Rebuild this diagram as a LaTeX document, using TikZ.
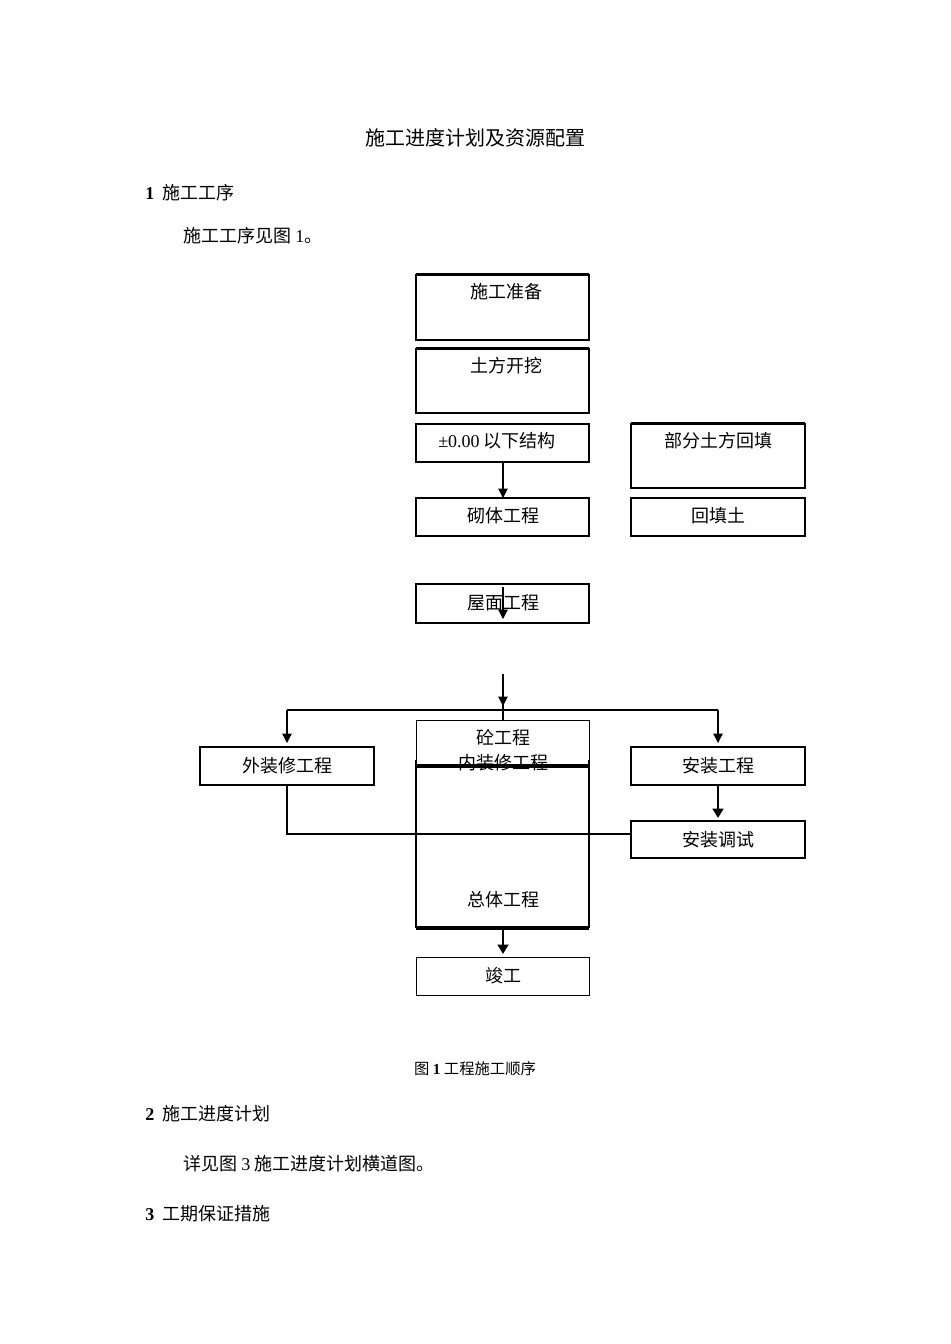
\documentclass[tikz,border=0pt]{standalone}
\usepackage{fontspec}
\setmainfont{Liberation Serif}
\newfontfamily\cjk{Noto Sans CJK SC}
\usetikzlibrary{arrows.meta}
\begin{document}
\begin{tikzpicture}[x=0.75pt,y=-0.75pt,
  bx/.style={draw,line width=0.9pt},
  lbl/.style={font=\fontsize{13.5}{15}\selectfont\cjk,inner sep=0pt},
  txt/.style={font=\fontsize{13.5}{15}\selectfont\cjk,inner sep=0pt,anchor=west},
  arr/.style={line width=0.9pt,-{Triangle[length=7pt,width=7pt]}},
  tarr/.style={line width=2pt,-{Triangle[length=7pt,width=8pt]}}]
\useasboundingbox[fill=white] (0,0) rectangle (950,1344);
\node[font=\fontsize{15}{17}\selectfont\cjk] (title) at (475,138) {施工进度计划及资源配置};
\node[txt] (h1) at (145,193) {\textbf{\rmfamily 1}\ \ 施工工序};
\node[txt] (p1) at (183,236) {施工工序见图 {\rmfamily 1}。};
% boxes
\draw[bx] (416,275) rectangle (589,340); \draw (416,273)--(589,273);
\node[lbl] (a) at (506,292) {施工准备};
\draw[bx] (416,349) rectangle (589,413); \draw (416,347)--(589,347);
\node[lbl] (b) at (506,366) {土方开挖};
\draw[bx] (416,424) rectangle (589,462);
\node[lbl] (c) at (497,441) {{\rmfamily ±0.00} 以下结构};
\draw[bx] (631,424) rectangle (805,488); \draw (631,422)--(805,422);
\node[lbl] (d) at (718,441) {部分土方回填};
\draw[bx] (416,498) rectangle (589,536);
\node[lbl] (e) at (503,516) {砌体工程};
\draw[bx] (631,498) rectangle (805,536);
\node[lbl] (f) at (718,516) {回填土};
\draw[arr] (503,462) -- (503,498);
\draw[bx] (416,584) rectangle (589,623);
\node[lbl] (g) at (503,603) {屋面工程};
\draw[arr] (503,587) -- (503,619);
% branch
\coordinate (top) at (503,674);
\coordinate (j) at (503,710);
\draw[arr] (top) -- (503,706);
\draw[line width=0.9pt] (503,700) -- (503,720);
\draw[line width=0.9pt] (287,710) -- (718,710);
\draw[arr] (287,710) -- (287,743);
\draw[arr] (718,710) -- (718,743);
% center
\draw[line width=0.7pt] (416,720) rectangle (589,765);
\node[lbl] (h) at (503,738) {砼工程};
\node[lbl] (i) at (503,763) {内装修工程};
\draw[line width=2.5pt] (416,766) -- (589,766);
\draw[bx] (416,760) -- (416,928) (589,760) -- (589,928);
\draw[line width=2.5pt] (416,928) -- (589,928);
\node[lbl] (k) at (503,900) {总体工程};
\draw[bx] (200,747) rectangle (374,785);
\node[lbl] (l) at (287,766) {外装修工程};
\draw[bx] (631,747) rectangle (805,785);
\node[lbl] (m) at (718,766) {安装工程};
\draw[bx] (631,821) rectangle (805,858);
\node[lbl] (n) at (718,840) {安装调试};
\draw[tarr] (718,785) -- (718,818);
\draw[line width=0.8pt] (287,785) -- (287,834) -- (631,834);
\draw[tarr] (503,929) -- (503,954);
\draw[line width=0.7pt] (416,957) rectangle (589,995);
\node[lbl] (o) at (503,976) {竣工};
\node[font=\fontsize{11.5}{13}\selectfont\cjk] (cap) at (475,1069) {图 {\rmfamily\bfseries 1} 工程施工顺序};
\node[txt] (h2) at (145,1114) {\textbf{\rmfamily 2}\ \ 施工进度计划};
\node[txt] (p2) at (183,1164) {详见图 {\rmfamily 3} 施工进度计划横道图。};
\node[txt] (h3) at (145,1214) {\textbf{\rmfamily 3}\ \ 工期保证措施};
\end{tikzpicture}
\end{document}
